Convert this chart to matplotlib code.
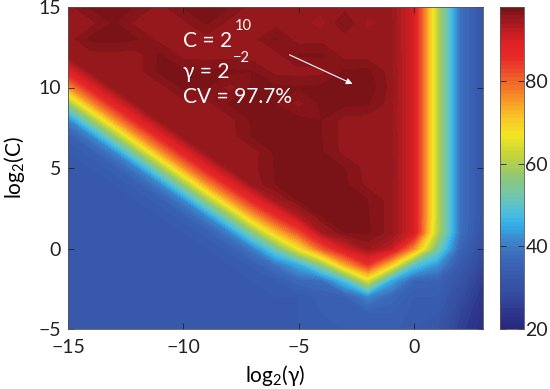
import numpy as np
import matplotlib
matplotlib.use("Agg")
import matplotlib.pyplot as plt
from matplotlib.colors import LinearSegmentedColormap

plt.rcParams['font.family'] = ['Lato', 'DejaVu Sans']
plt.rcParams['mathtext.fontset'] = 'custom'
plt.rcParams['mathtext.rm'] = 'Lato'
plt.rcParams['mathtext.it'] = 'Lato:italic'

# grid of the search (log2 values)
log2_gamma = [-15, -14, -13, -12, -11, -10, -9, -8, -7, -6, -5, -4, -3, -2, -1, 0, 1, 2, 3]
log2_c = [15, 14, 13, 12, 11, 10, 9, 8, 7, 6, 5, 4, 3, 2, 1, 0, -1, -2, -3, -4, -5]

# cross-validation accuracy (%), one row per log2(C), top row is C = 2^15
cv = [
    [95.6, 97.2, 97.3, 96.9, 95.6, 97.1, 97.3, 97.0, 95.5, 95.4, 95.6, 95.3, 95.6, 95.4, 95.2, 90, 62, 39, 31],
    [95.5, 95.6, 97.2, 95.6, 95.5, 95.7, 97.1, 95.6, 95.5, 95.6, 95.4, 94.6, 97.0, 94.7, 95.3, 90, 62, 39, 31],
    [95.4, 97.3, 97.4, 97.0, 95.6, 95.5, 95.6, 95.4, 95.6, 97.1, 95.5, 95.6, 95.4, 95.6, 95.3, 90, 62, 39, 31],
    [95.5, 95.5, 95.6, 95.5, 97.2, 95.6, 95.5, 95.6, 95.4, 95.6, 97.1, 97.2, 95.6, 95.5, 95.4, 90, 62, 39, 31],
    [88.0, 95.5, 95.6, 95.5, 97.3, 97.2, 97.1, 97.2, 97.0, 95.6, 95.5, 95.6, 97.2, 97.3, 95.5, 90, 62, 39, 31],
    [75.0, 88.0, 95.5, 95.6, 95.5, 97.2, 97.1, 95.6, 97.2, 97.3, 97.1, 97.3, 97.4, 97.7, 95.6, 90, 62, 39, 31],
    [57.0, 75.0, 88.0, 95.5, 95.6, 95.5, 95.6, 97.1, 97.2, 97.0, 95.6, 97.2, 97.3, 97.1, 95.5, 90, 62, 39, 31],
    [41.0, 57.0, 75.0, 88.0, 95.5, 95.6, 95.4, 95.6, 97.2, 97.1, 97.3, 97.0, 95.6, 95.5, 95.4, 90, 62, 39, 31],
    [34.5, 41.0, 57.0, 75.0, 88.0, 95.5, 95.6, 95.5, 97.1, 97.2, 97.2, 97.0, 95.5, 95.6, 95.5, 90, 62, 39, 31],
    [33.0, 34.5, 41.0, 57.0, 75.0, 88.0, 95.5, 95.6, 95.5, 97.2, 97.3, 97.1, 95.6, 95.4, 95.5, 90, 62, 39, 31],
    [33.0, 33.0, 34.5, 41.0, 57.0, 75.0, 88.0, 95.3, 95.6, 97.1, 97.2, 97.3, 97.0, 95.5, 95.6, 90, 62, 39, 31],
    [33.0, 33.0, 33.0, 34.5, 41.0, 57.0, 75.0, 87.5, 95.2, 97.0, 97.2, 97.1, 97.3, 95.6, 95.5, 90, 62, 39, 31],
    [33.0, 33.0, 33.0, 33.0, 34.5, 41.0, 57.0, 74.2, 86.8, 94.3, 97.1, 97.3, 97.2, 97.0, 95.5, 90, 62, 39, 31],
    [33.0, 33.0, 33.0, 33.0, 33.0, 34.5, 41.0, 56.0, 73.4, 85.0, 93.0, 97.0, 97.2, 97.1, 95.5, 90, 62, 39, 31],
    [33.0, 33.0, 33.0, 33.0, 33.0, 33.0, 34.5, 40.6, 55.2, 71.0, 82.0, 94.0, 97.0, 97.2, 95.5, 90, 61, 38.5, 30.5],
    [33.0, 33.0, 33.0, 33.0, 33.0, 33.0, 33.0, 34.3, 40.2, 52.5, 67.0, 81.0, 90.5, 95.0, 92.0, 76, 54, 36, 29],
    [33.0, 33.0, 33.0, 33.0, 33.0, 33.0, 33.0, 33.0, 34.2, 39.0, 45.0, 56.5, 73.5, 85.0, 70.5, 50, 43, 33, 27],
    [33.0, 33.0, 33.0, 33.0, 33.0, 33.0, 33.0, 33.0, 33.0, 33.7, 37.0, 38.0, 48.0, 64.0, 45.0, 36, 35.5, 31, 25],
    [33.0, 33.0, 33.0, 33.0, 33.0, 33.0, 33.0, 33.0, 33.0, 33.0, 33.0, 34.5, 35.0, 41.0, 36.8, 34, 34, 29, 23.5],
    [33.0, 33.0, 33.0, 33.0, 33.0, 33.0, 33.0, 33.0, 33.0, 33.0, 33.0, 34.0, 34.5, 35.0, 35.0, 33.5, 33, 27, 22.5],
    [33.0, 33.0, 33.0, 33.0, 33.0, 33.0, 33.0, 33.0, 33.0, 33.0, 33.0, 33.5, 34.0, 34.5, 34.5, 33, 32, 26, 21.5],
]

best_text = ["C = 2", "\u03b3 = 2", "CV = 97.7%"]
best_exp = ["10", "\u22122"]

# jet-like palette as it looks in the original figure
vmin, vmax = 20, 98
anchors = [
    (20, (38, 40, 125)), (24, (45, 55, 140)), (28, (52, 75, 158)), (33, (56, 90, 172)),
    (38, (60, 108, 188)), (42, (60, 140, 205)), (45, (50, 172, 232)), (48, (75, 190, 222)),
    (52, (110, 198, 178)), (57, (145, 200, 115)), (62, (195, 212, 60)), (67, (242, 230, 35)),
    (72, (250, 190, 40)), (77, (245, 135, 40)), (82, (238, 80, 42)), (86, (230, 40, 40)),
    (90, (220, 32, 37)), (93, (180, 28, 32)), (95.5, (150, 24, 29)), (98, (118, 18, 22)),
]
cmap = LinearSegmentedColormap.from_list(
    "jetgif", [((v - vmin) / (vmax - vmin), tuple(c / 255 for c in rgb)) for v, rgb in anchors])

fig = plt.figure(figsize=(5.5, 3.89), dpi=100)
ax = fig.add_axes([68 / 550, 1 - 329 / 389, 415 / 550, 322 / 389])
cax = fig.add_axes([500 / 550, 1 - 329 / 389, 24 / 550, 322 / 389])

cs = ax.contourf(log2_gamma, log2_c, np.array(cv), levels=np.arange(vmin, vmax + 1, 1),
                 cmap=cmap, vmin=vmin, vmax=vmax)
ax.set_xlim(-15, 3)
ax.set_ylim(-5, 15)
ax.set_xticks([-15, -10, -5, 0])
ax.set_yticks([-5, 0, 5, 10, 15])
ax.tick_params(direction='in', top=True, right=True, length=4, width=0.6,
               labelsize=14, colors='#222222')
ax.tick_params(axis='x', pad=7)
ax.tick_params(axis='y', pad=5)
for s in ax.spines.values():
    s.set_linewidth(0.6)
    s.set_color('#555555')
ax.set_xlabel("log$_2$(\u03b3)", fontsize=15, labelpad=5)
ax.set_ylabel("log$_2$(C)", fontsize=15, labelpad=8)

# best point annotation
ax.text(-10.0, 12.53, best_text[0], color='white', fontsize=15)
ax.text(-7.75, 13.6, best_exp[0], color='white', fontsize=10.5)
ax.text(-10.0, 10.6, best_text[1], color='white', fontsize=15)
ax.text(-7.85, 11.6, best_exp[1], color='white', fontsize=10.5)
ax.text(-10.0, 9.04, best_text[2], color='white', fontsize=15)
ax.annotate('', xy=(-2.55, 10.15), xytext=(-5.5, 12.1),
            arrowprops=dict(arrowstyle='-|>', color='white', lw=0.8, mutation_scale=9))

cb = fig.colorbar(cs, cax=cax, ticks=[20, 40, 60, 80])
cb.outline.set_linewidth(0.6)
cb.outline.set_edgecolor('#555555')
cax.tick_params(direction='in', left=True, right=True, length=4, width=0.6,
                labelsize=14, pad=1, colors='#222222')

fig.savefig("out.png", dpi=100)
